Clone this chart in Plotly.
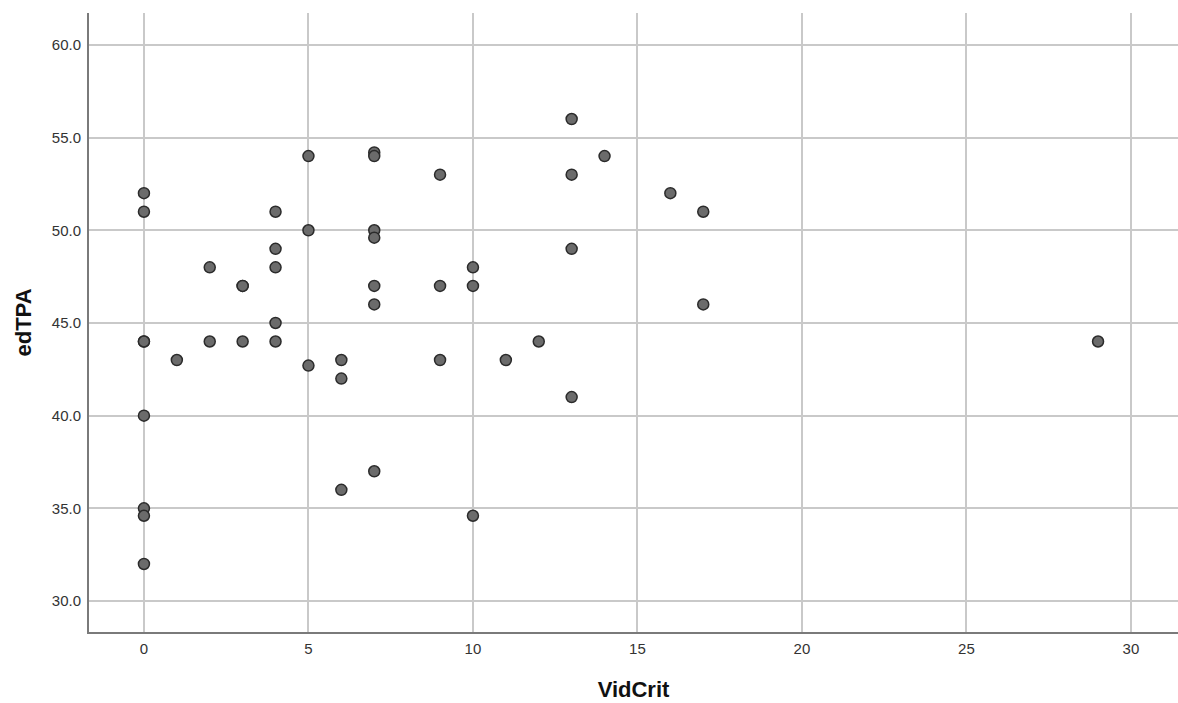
import plotly.graph_objects as go

vidcrit = [0, 0, 0, 0, 0, 0, 0, 0,
           1,
           2, 2,
           3, 3, 3,
           4, 4, 4, 4, 4,
           5, 5, 5,
           6, 6, 6,
           7, 7, 7, 7, 7, 7, 7,
           9, 9, 9,
           10, 10, 10,
           11, 12,
           13, 13, 13, 13,
           14, 16, 17, 17, 29]
edtpa = [52, 51, 44, 44, 40, 35, 34.6, 32,
         43,
         48, 44,
         47, 47, 44,
         51, 49, 48, 45, 44,
         54, 50, 42.7,
         43, 42, 36,
         54.2, 54, 50, 49.6, 47, 46, 37,
         53, 47, 43,
         48, 47, 34.6,
         43, 44,
         56, 53, 49, 41,
         54, 52, 51, 46, 44]

x_ticks = [0, 5, 10, 15, 20, 25, 30]
y_ticks = [30, 35, 40, 45, 50, 55, 60]

fig = go.Figure(go.Scatter(
    x=vidcrit, y=edtpa, mode="markers",
    marker=dict(size=11, color="#6b6b6b", line=dict(color="#2b2b2b", width=1.5)),
    hoverinfo="x+y",
))

axis_common = dict(
    showgrid=True, gridcolor="#c9c9c9", gridwidth=1.5,
    showline=True, linecolor="#7a7a7a", linewidth=2,
    zeroline=False, ticks="", ticklen=0,
    tickfont=dict(family="Arial, Liberation Sans, sans-serif", size=15, color="#333333"),
)

fig.update_layout(
    width=1178, height=703,
    margin=dict(l=89, r=0, t=13, b=71),
    paper_bgcolor="white", plot_bgcolor="white",
    showlegend=False,
    font=dict(family="Arial, Liberation Sans, sans-serif"),
    xaxis=dict(axis_common, range=[-1.67, 31.43], tickvals=x_ticks,
               ticktext=[str(v) for v in x_ticks], ticklabelstandoff=2,
               title=dict(text="<b>VidCrit</b>", font=dict(size=22, color="#111111"), standoff=26)),
    yaxis=dict(axis_common, range=[28.33, 61.72], tickvals=y_ticks,
               ticktext=[f"{v:.1f}" for v in y_ticks], ticklabelstandoff=3,
               title=dict(text="<b>edTPA</b>", font=dict(size=22, color="#111111"), standoff=14)),
)

fig.write_html("out.html", config={"displayModeBar": False},
               post_script="document.body.style.margin='0';document.body.style.overflow='hidden';")
